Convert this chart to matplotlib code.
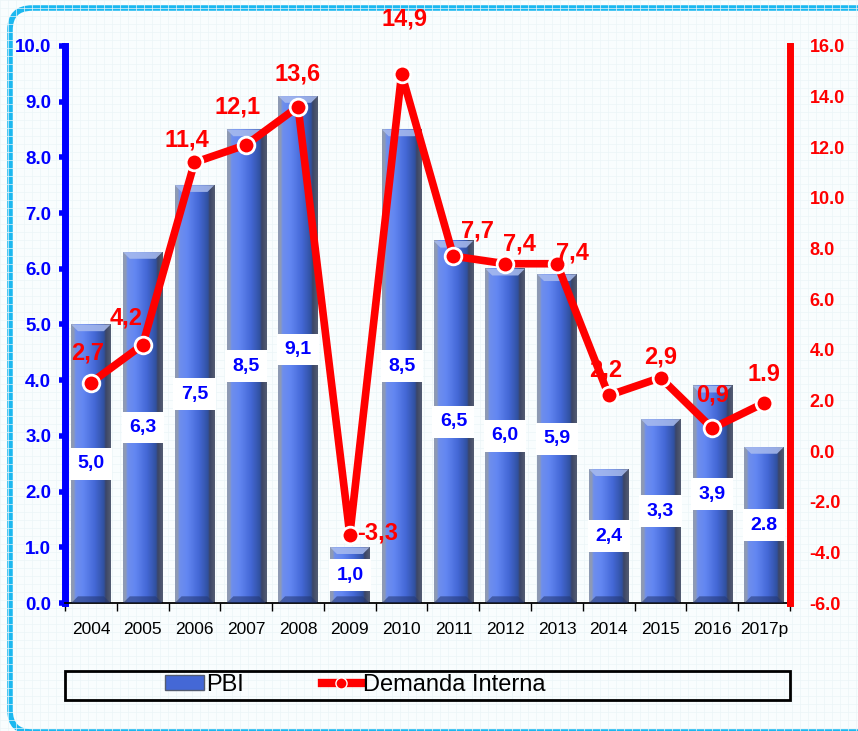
import numpy as np
import matplotlib
matplotlib.use("Agg")
import matplotlib.pyplot as plt
from matplotlib.colors import LinearSegmentedColormap
from matplotlib.patches import FancyBboxPatch, Rectangle, Polygon
from matplotlib.lines import Line2D

plt.rcParams["font.family"] = ["Liberation Sans", "DejaVu Sans"]

years = ["2004", "2005", "2006", "2007", "2008", "2009", "2010",
         "2011", "2012", "2013", "2014", "2015", "2016", "2017p"]
pbi = [5.0, 6.3, 7.5, 8.5, 9.1, 1.0, 8.5, 6.5, 6.0, 5.9, 2.4, 3.3, 3.9, 2.8]
pbi_labels = ["5,0", "6,3", "7,5", "8,5", "9,1", "1,0", "8,5",
              "6,5", "6,0", "5,9", "2,4", "3,3", "3,9", "2.8"]
demanda = [2.7, 4.2, 11.4, 12.1, 13.6, -3.3, 14.9, 7.7, 7.4, 7.4, 2.2, 2.9, 0.9, 1.9]
demanda_labels = ["2,7", "4,2", "11,4", "12,1", "13,6", "-3,3", "14,9",
                  "7,7", "7,4", "7,4", "2,2", "2,9", "0,9", "1.9"]

# label offsets in pixels (dx, dy) for the red labels
lab_off = [(-3, 30), (-17, 27), (-8, 22), (-9, 38), (0, 33), (28, 2), (3, 55),
           (24, 25), (14, 20), (15, 11), (-3, 25), (0, 21), (0, 33), (0, 28)]

BLUE = "#0000FF"
RED = "#FF0000"

fig = plt.figure(figsize=(8.58, 7.31), dpi=100)
fig.patch.set_facecolor("#F9FDFE")

# faint background grid
bg = fig.add_axes([0, 0, 1, 1], zorder=-10)
bg.set_xlim(0, 858)
bg.set_ylim(731, 0)
bg.axis("off")
for v in np.arange(0, 858, 8):
    bg.axvline(v, color="#EBF5F8", lw=0.5)
for v in np.arange(0, 731, 8):
    bg.axhline(v, color="#EBF5F8", lw=0.5)
bg.add_patch(FancyBboxPatch((10, 8), 880, 724,
                            boxstyle="round,pad=0,rounding_size=22",
                            fill=False, ec="#1BB8F0", lw=4))

ax = fig.add_axes([0.0758, 0.1751, 0.8449, 0.7620])
ax.patch.set_alpha(0)
ax2 = ax.twinx()

x = np.arange(len(years))
w = 0.76
cmap = LinearSegmentedColormap.from_list("bar", [
    (0.0, "#8E9AB4"), (0.07, "#8E9AB4"), (0.1, "#6F8FEC"), (0.3, "#6387F2"),
    (0.6, "#4468D6"), (0.84, "#30509E"), (0.87, "#3A4466"), (1.0, "#535C72")])
grad = np.linspace(0, 1, 64).reshape(1, -1)

for xi, h, lab in zip(x, pbi, pbi_labels):
    x0, x1 = xi - w / 2, xi + w / 2
    ax.imshow(grad, cmap=cmap, aspect="auto", extent=(x0, x1, 0, h),
              zorder=2, interpolation="bicubic")
    bx, by = 0.13, 0.12
    ax.add_patch(Polygon([(x0, h), (x1, h), (x1 - bx, h - by), (x0 + bx, h - by)],
                         closed=True, fc="#A9BCEE", alpha=0.85, ec="none", zorder=3))
    ax.add_patch(Polygon([(x0, 0), (x1, 0), (x1 - bx, by), (x0 + bx, by)],
                         closed=True, fc="#233670", alpha=0.55, ec="none", zorder=3))
    ax.text(xi, h / 2, lab, ha="center", va="center", color=BLUE,
            fontsize=14, fontweight="bold", zorder=5,
            bbox=dict(boxstyle="square,pad=0.38", fc="white", ec="none"))

ax.set_xlim(-0.5, len(years) - 0.5)
ax.set_ylim(0, 10)
ax.set_yticks(np.arange(0, 11, 1))
ax.set_yticklabels([f"{v:.1f}" for v in np.arange(0, 11, 1)])
ax.set_xticks(x)
ax.set_xticklabels(years)
ax.set_xticks(np.arange(-0.5, len(years), 1), minor=True)
ax.tick_params(axis="x", which="major", length=0, labelsize=12.5, pad=14)
ax.tick_params(axis="x", which="minor", length=6, width=1, color="black")
ax.tick_params(axis="y", colors=BLUE, labelcolor=BLUE, length=4, width=4,
               direction="out", labelsize=13.5, pad=6)
for t in ax.get_yticklabels():
    t.set_fontweight("bold")
ax.spines["left"].set_color(BLUE)
ax.spines["left"].set_linewidth(5)
ax.spines["bottom"].set_color("black")
ax.spines["bottom"].set_linewidth(1.3)
for s in ["top", "right"]:
    ax.spines[s].set_visible(False)

ax2.set_ylim(-6, 16)
ax2.set_yticks(np.arange(-6, 17, 2))
ax2.set_yticklabels([f"{v:.1f}" for v in np.arange(-6, 17, 2)])
ax2.tick_params(axis="y", colors=RED, labelcolor=RED, length=4, width=4,
                direction="inout", labelsize=13, pad=12)
for t in ax2.get_yticklabels():
    t.set_fontweight("bold")
ax2.spines["right"].set_color(RED)
ax2.spines["right"].set_linewidth(5)
for s in ["top", "left", "bottom"]:
    ax2.spines[s].set_visible(False)

ax2.plot(x, demanda, color=RED, lw=5.5, marker="o", ms=12, mfc=RED,
         mec="white", mew=2, zorder=6, solid_joinstyle="round")
for xi, v, lab, (dx, dy) in zip(x, demanda, demanda_labels, lab_off):
    ax2.annotate(lab, (xi, v), xytext=(dx, dy), textcoords="offset pixels",
                 ha="center", va="center", color=RED, fontsize=17,
                 fontweight="bold", zorder=7, annotation_clip=False)

# legend box
fig.patches.append(Rectangle((0.0758, 0.0424), 0.8449, 0.0397,
                             transform=fig.transFigure, fill=False,
                             ec="black", lw=2))
h_bar = Rectangle((0, 0), 1, 1, fc="#4468D6", ec="#535C72", lw=1)
h_line = Line2D([], [], color=RED, lw=6, marker="o", ms=8, mfc=RED, mec="white", mew=1)
fig.legend([h_bar, h_line], ["PBI", "Demanda Interna"], ncol=2, frameon=False,
           loc="center left", bbox_to_anchor=(0.192, 0.0625), fontsize=17,
           handlelength=1.65, handleheight=0.6, handletextpad=0.1,
           columnspacing=3.3, borderaxespad=0, borderpad=0)

fig.savefig("out.png", dpi=100, facecolor=fig.get_facecolor())
